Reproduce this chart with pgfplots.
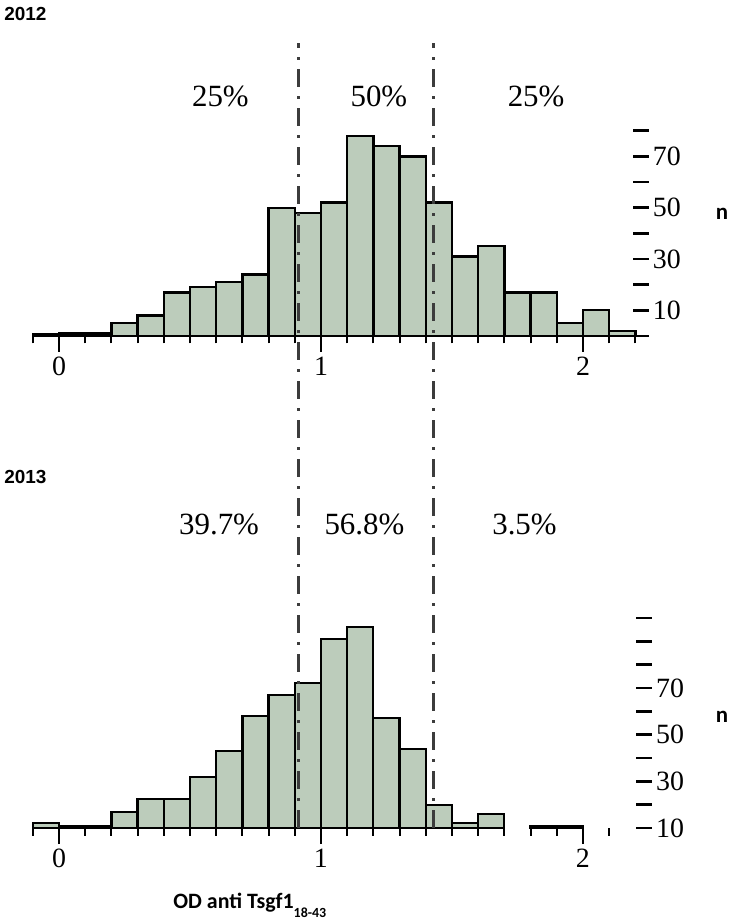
\documentclass[border=0pt]{standalone}
\usepackage{fontspec}
\setmainfont{Liberation Serif}
\setsansfont{Liberation Sans}
\newfontfamily\calib{Carlito}
\usepackage{pgfplots}
\pgfplotsset{compat=1.18}
\definecolor{barfill}{RGB}{188,204,187}
\definecolor{dashc}{RGB}{60,60,60}
\pgfplotsset{
  histax/.style={
    scale only axis, clip=false,
    xmin=-0.1, ymin=0,
    axis x line*=bottom, axis y line*=right,
    axis line style={draw=none},
    xtick align=outside, ytick align=inside,
    major tick length=8bp, minor tick length=3.75bp,
    xtick={0,1,2},
    xtick style={black, line width=1bp},
    ytick style={black, line width=1.3bp},
    tick label style={font=\fontsize{14}{14}\selectfont},
    /pgf/number format/assume math mode=true,
    yticklabel style={anchor=west, inner sep=0pt, xshift=2bp},
    xticklabel style={anchor=north, inner sep=0pt, yshift=-2.5bp},
  },
  bars/.style={ybar interval, fill=barfill, draw=black, line width=1.15bp},
  dd/.style={dashc, line width=1.5bp, dash pattern=on 9bp off 4.5bp on 1.5bp off 4.5bp},
}
\tikzset{pct/.style={font=\fontsize{15.5}{15.5}\selectfont}}
\begin{document}
\begin{tikzpicture}
\path[use as bounding box] (0,0) rectangle (365.5bp,459.5bp);
% ---------------- 2012 ----------------
\begin{axis}[histax, at={(16.4bp,291.5bp)}, anchor=south west,
  width=307.85bp, height=146.26bp, xmax=2.25, ymax=114,
  minor xtick={-0.1,0.1,0.2,0.3,0.4,0.5,0.6,0.7,0.8,0.9,1.1,1.2,1.3,1.4,1.5,1.6,1.7,1.8,1.9,2.1,2.2},
  ytick={10,20,30,40,50,60,70,80}, yticklabels={10,,30,,50,,70,}]
\addplot[black, line width=1.15bp] coordinates {(-0.1,0) (2.25,0)};
\addplot[bars] coordinates {
(-0.1,0.8) (0.0,1) (0.1,1) (0.2,5) (0.3,8) (0.4,17) (0.5,19) (0.6,21) (0.7,24)
(0.8,50) (0.9,48) (1.0,52) (1.1,78) (1.2,74) (1.3,70) (1.4,52) (1.5,31) (1.6,35)
(1.7,17) (1.8,17) (1.9,5) (2.0,10) (2.1,2) (2.2,0)};
\node[pct] at (axis cs:0.616,93.5) {25\%};
\node[pct] at (axis cs:1.221,93.5) {50\%};
\node[pct] at (axis cs:1.821,93.5) {25\%};
\end{axis}
% ---------------- 2013 ----------------
\begin{axis}[histax, at={(16.4bp,45.5bp)}, anchor=south west,
  width=309.5bp, height=105bp, xmax=2.263, ymax=90,
  minor xtick={-0.1,0.1,0.2,0.3,0.4,0.5,0.6,0.7,0.8,0.9,1.1,1.2,1.3,1.4,1.5,1.6,1.7,1.8,1.9,2.1},
  ytick={0,10,20,30,40,50,60,70,80,90}, yticklabels={10,,30,,50,,70,,,}]
\addplot[bars] coordinates {
(-0.1,2) (0.0,0.8) (0.1,0.8) (0.2,7) (0.3,12.5) (0.4,12.5) (0.5,22) (0.6,33) (0.7,48)
(0.8,57) (0.9,62) (1.0,81) (1.1,86) (1.2,47) (1.3,34) (1.4,10) (1.5,2) (1.6,6) (1.7,0)};
\addplot[bars] coordinates {(1.8,0.8) (1.9,0.8) (2.0,0)};
\addplot[dd] coordinates {(0.916,0) (0.916,336.5)};
\addplot[dd] coordinates {(1.428,0) (1.428,336.5)};
\node[pct] at (axis cs:0.611,130) {39.7\%};
\node[pct] at (axis cs:1.166,130) {56.8\%};
\node[pct] at (axis cs:1.777,130) {3.5\%};
\end{axis}
\node[font=\sffamily\bfseries\fontsize{9.5}{9.5}\selectfont, anchor=west, inner sep=0pt] at (2bp,452.5bp) {2012};
\node[font=\sffamily\bfseries\fontsize{9.5}{9.5}\selectfont, anchor=west, inner sep=0pt] at (2bp,221bp) {2013};
\node[font=\calib\bfseries\fontsize{11.5}{11.5}\selectfont, inner sep=0pt] at (361bp,352.5bp) {n};
\node[font=\calib\bfseries\fontsize{11.5}{11.5}\selectfont, inner sep=0pt] at (361bp,101bp) {n};
\node[font=\calib\bfseries\fontsize{11}{11}\selectfont, anchor=base west, inner sep=0pt] at (86.5bp,5.5bp) {OD anti Tsgf1{\fontsize{7}{7}\selectfont\raisebox{-4.5bp}{18-43}}};
\end{tikzpicture}
\end{document}
